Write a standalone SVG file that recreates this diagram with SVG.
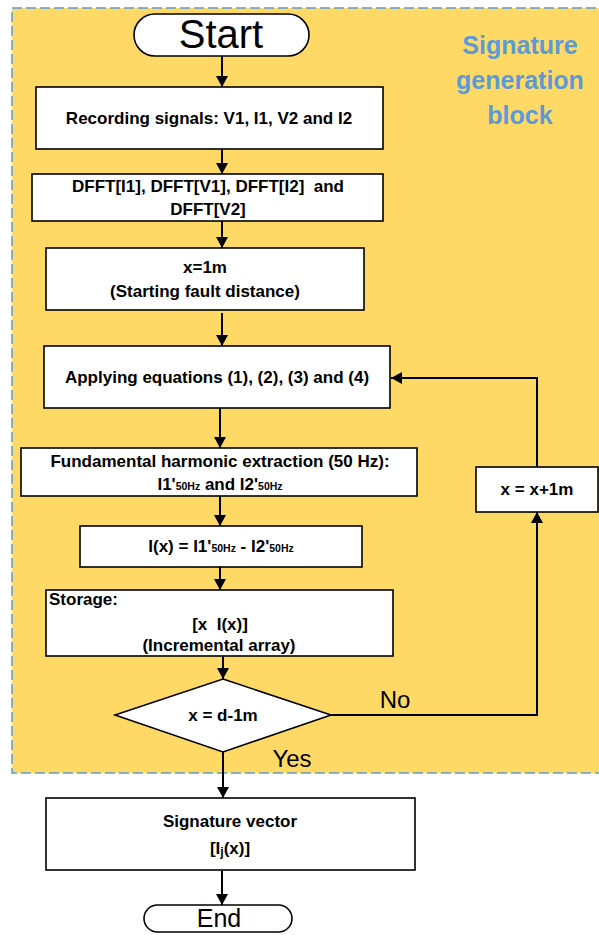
<svg xmlns="http://www.w3.org/2000/svg" width="599" height="935" viewBox="0 0 599 935">
<style>
.box{fill:#fff;stroke:#000;stroke-width:1.6}
.t{font-family:"Liberation Sans",Arial,sans-serif;font-weight:bold;font-size:17px;fill:#000;text-anchor:middle}
.big{font-family:"Liberation Sans",Arial,sans-serif;fill:#000;text-anchor:middle}
.sub{font-size:10.5px}
.conn{fill:none;stroke:#000;stroke-width:2}
</style>
<defs>
<marker id="arr" markerUnits="userSpaceOnUse" markerWidth="12" markerHeight="12" refX="11" refY="6" orient="auto">
<path d="M0,0 L11,6 L0,12 z" fill="#000"/>
</marker>
</defs>
<rect x="12" y="8" width="600" height="765" fill="#FFD966" stroke="#5B9BD5" stroke-width="1.5" stroke-dasharray="10 4"/>
<g id="block-label">
<text class="big" x="520" y="54" style="font-weight:bold;font-size:25px;fill:#5B9BD5">Signature</text>
<text class="big" x="520" y="89" style="font-weight:bold;font-size:25px;fill:#5B9BD5">generation</text>
<text class="big" x="520" y="124" style="font-weight:bold;font-size:25px;fill:#5B9BD5">block</text>
</g>
<g id="connectors">
<line class="conn" x1="222" y1="56" x2="222" y2="87" marker-end="url(#arr)"/>
<line class="conn" x1="222" y1="149" x2="222" y2="174" marker-end="url(#arr)"/>
<line class="conn" x1="222" y1="221" x2="222" y2="248" marker-end="url(#arr)"/>
<line class="conn" x1="222" y1="313" x2="222" y2="346" marker-end="url(#arr)"/>
<line class="conn" x1="220" y1="408" x2="220" y2="448" marker-end="url(#arr)"/>
<line class="conn" x1="220" y1="496" x2="220" y2="526" marker-end="url(#arr)"/>
<line class="conn" x1="220" y1="567" x2="220" y2="590" marker-end="url(#arr)"/>
<line class="conn" x1="223" y1="656" x2="223" y2="679" marker-end="url(#arr)"/>
<line class="conn" x1="223" y1="752" x2="223" y2="798" marker-end="url(#arr)"/>
<line class="conn" x1="222" y1="871" x2="222" y2="905" marker-end="url(#arr)"/>
<polyline class="conn" points="331,715 537,715 537,512" marker-end="url(#arr)"/>
<polyline class="conn" points="537,467 537,378 391,378" marker-end="url(#arr)"/>
<text class="big" x="395" y="708" style="font-size:24px">No</text>
<text class="big" x="292" y="767" style="font-size:24px">Yes</text>
</g>
<g id="start">
<rect x="134" y="14" width="175" height="42" rx="21" fill="#fff" stroke="#000" stroke-width="1.6"/>
<text class="big" x="221" y="48" style="font-size:40px">Start</text>
</g>
<g id="recording">
<rect class="box" x="36" y="87" width="347" height="62"/>
<text class="t" x="209" y="124">Recording signals: V1, I1, V2 and I2</text>
</g>
<g id="dfft">
<rect class="box" x="32" y="174" width="351" height="47"/>
<text class="t" x="208" y="192" xml:space="preserve">DFFT[I1], DFFT[V1], DFFT[I2]  and</text>
<text class="t" x="208" y="215">DFFT[V2]</text>
</g>
<g id="init">
<rect class="box" x="46" y="248" width="318" height="62"/>
<text class="t" x="205" y="273">x=1m</text>
<text class="t" x="205" y="297">(Starting fault distance)</text>
</g>
<g id="apply">
<rect class="box" x="44" y="346" width="346" height="62"/>
<text class="t" x="217" y="383">Applying equations (1), (2), (3) and (4)</text>
</g>
<g id="fundamental">
<rect class="box" x="21" y="448" width="396" height="48"/>
<text class="t" x="220" y="467">Fundamental harmonic extraction (50 Hz):</text>
<text class="t" x="220" y="490">I1'<tspan class="sub">50Hz</tspan> and I2'<tspan class="sub">50Hz</tspan></text>
</g>
<g id="increment">
<rect class="box" x="476" y="467" width="122" height="45"/>
<text class="t" x="537" y="495">x = x+1m</text>
</g>
<g id="difference">
<rect class="box" x="80" y="526" width="282" height="41"/>
<text class="t" x="221" y="552">I(x) = I1'<tspan class="sub">50Hz</tspan> - I2'<tspan class="sub">50Hz</tspan></text>
</g>
<g id="storage">
<rect class="box" x="46" y="590" width="347" height="66"/>
<text class="t" x="49" y="605" style="text-anchor:start">Storage:</text>
<text class="t" x="220" y="630" xml:space="preserve">[x  I(x)]</text>
<text class="t" x="219" y="651">(Incremental array)</text>
</g>
<g id="decision">
<polygon points="223,679 331,715 223,752 115,715" fill="#fff" stroke="#000" stroke-width="1.6"/>
<text class="t" x="223" y="721">x = d-1m</text>
</g>
<g id="signature">
<rect class="box" x="46" y="798" width="369" height="72"/>
<text class="t" x="230" y="827">Signature vector</text>
<text class="t" x="230" y="854">[I<tspan style="font-size:12px" dy="2">j</tspan><tspan dy="-2">(x)]</tspan></text>
</g>
<g id="end">
<rect x="144" y="905" width="148" height="27" rx="13.5" fill="#fff" stroke="#000" stroke-width="1.6"/>
<text class="big" x="219" y="927" style="font-size:25px">End</text>
</g>
</svg>
